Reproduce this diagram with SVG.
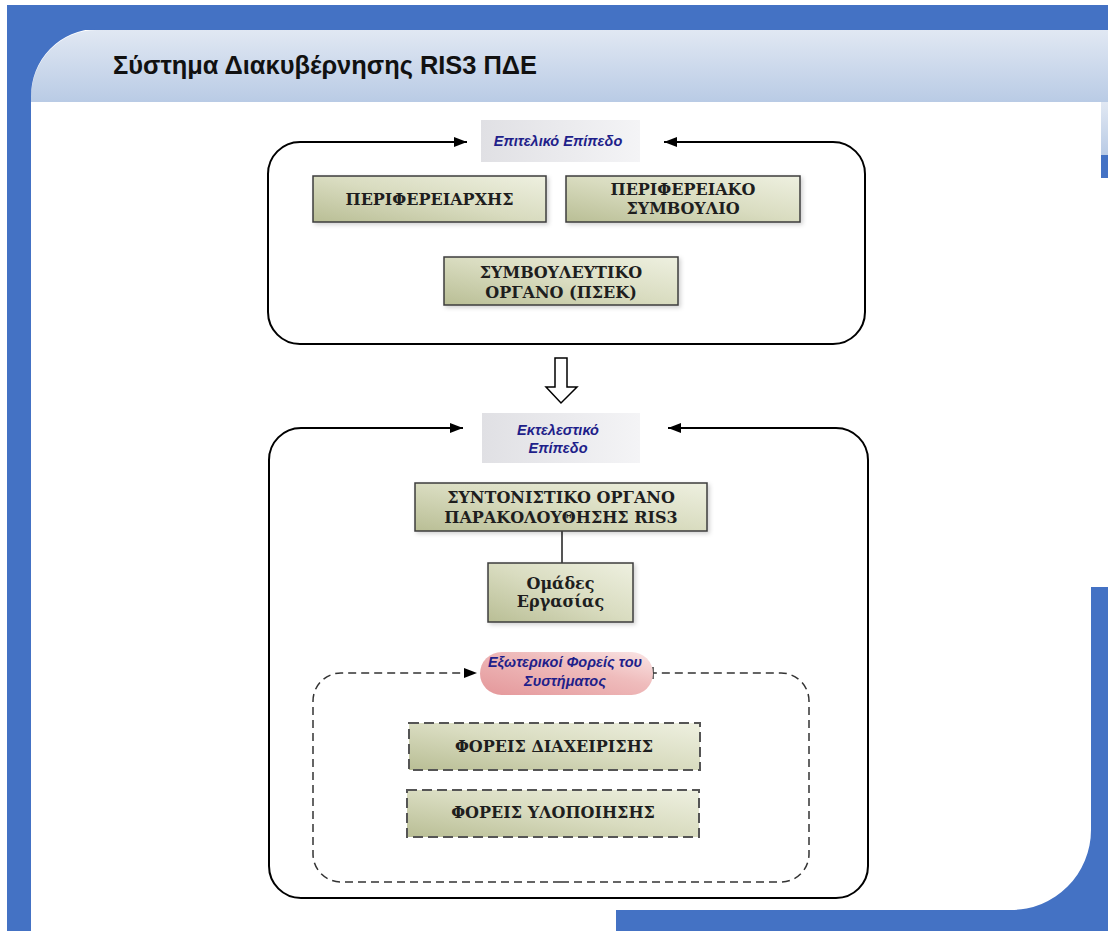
<svg xmlns="http://www.w3.org/2000/svg" width="1108" height="931" viewBox="0 0 1108 931">
<defs>
<linearGradient id="hdr" x1="0" y1="0" x2="0" y2="1"><stop offset="0" stop-color="#e1e8f3"/><stop offset="1" stop-color="#b9cbe5"/></linearGradient>
<linearGradient id="olive" x1="1" y1="0" x2="0" y2="1"><stop offset="0" stop-color="#eef0e0"/><stop offset="0.5" stop-color="#d9dcc0"/><stop offset="1" stop-color="#b9be95"/></linearGradient>
<linearGradient id="gray" x1="0" y1="0" x2="1" y2="0"><stop offset="0" stop-color="#e0e0e4"/><stop offset="1" stop-color="#f4f4f6"/></linearGradient>
<linearGradient id="pink" x1="0" y1="1" x2="1" y2="0"><stop offset="0" stop-color="#e4979a"/><stop offset="0.6" stop-color="#efbcbc"/><stop offset="1" stop-color="#fae6e6"/></linearGradient>
<filter id="sh" x="-10%" y="-20%" width="120%" height="150%"><feDropShadow dx="2" dy="2" stdDeviation="2" flood-color="#000" flood-opacity="0.18"/></filter>
<marker id="ah" markerUnits="userSpaceOnUse" markerWidth="14" markerHeight="12" refX="13" refY="6" orient="auto"><path d="M0,1 L13,6 L0,11 Z" fill="#000"/></marker>
<marker id="tick" markerUnits="userSpaceOnUse" markerWidth="4" markerHeight="14" refX="2" refY="7" orient="auto"><path d="M2,1 V13" stroke="#333" stroke-width="1.5"/></marker>
</defs>
<style>
.blue{fill:#4472c4}
.box{fill:url(#olive);stroke:#3c3c3c;stroke-width:1.5;filter:url(#sh)}
.dbox{fill:url(#olive);stroke:#555;stroke-width:2;stroke-dasharray:10 5}
.lbl{fill:url(#gray)}
.st{font-family:"DejaVu Serif","Liberation Serif",serif;font-weight:bold;font-size:16px;fill:#1e1e1e;text-anchor:middle}
.it{font-family:"Liberation Sans",Arial,sans-serif;font-weight:bold;font-style:italic;font-size:14.5px;fill:#1f1f8a;text-anchor:middle}
.frame{fill:none;stroke:#000;stroke-width:2}
.dash{fill:none;stroke:#333;stroke-width:1.5;stroke-dasharray:8 5}
</style>
<rect width="1108" height="931" fill="#fff"/>
<g id="background">
<path d="M31,97 A66,67 0 0 1 97,30 H1108 V102 H31 Z" fill="url(#hdr)"/>
<rect x="1101" y="102" width="7" height="53" fill="url(#hdr)"/>
<rect class="blue" x="7" y="5" width="1101" height="25"/>
<rect class="blue" x="7" y="5" width="24" height="926"/>
<path class="blue" d="M31,29 H97 A66,67 0 0 0 31,97 Z"/>
<rect class="blue" x="1101" y="155" width="7" height="23"/>
<path class="blue" d="M1091,587 H1108 V931 H616 V910 H1011 A80,80 0 0 0 1091,830 Z"/>
<text x="113" y="74" font-family="Liberation Sans, Arial, sans-serif" font-weight="bold" font-size="26.5" fill="#111" textLength="424" lengthAdjust="spacingAndGlyphs">Σύστημα Διακυβέρνησης RIS3 ΠΔΕ</text>
</g>
<g id="connectors">
<path class="frame" d="M561,344 H300 A32,32 0 0 1 268,312 V174 A32,32 0 0 1 300,142 H467" marker-end="url(#ah)"/>
<path class="frame" d="M561,344 H833 A32,32 0 0 0 865,312 V174 A32,32 0 0 0 833,142 H664" marker-end="url(#ah)"/>
<path d="M555,358 H567 V387 H577 L561,403 L546,387 H555 Z" fill="#fff" stroke="#000" stroke-width="1.5"/>
<path class="frame" d="M561,898 H301 A32,32 0 0 1 269,866 V460 A32,32 0 0 1 301,428 H463" marker-end="url(#ah)"/>
<path class="frame" d="M561,898 H836 A32,32 0 0 0 868,866 V460 A32,32 0 0 0 836,428 H668" marker-end="url(#ah)"/>
<line x1="562" y1="531" x2="562" y2="563" stroke="#555" stroke-width="2"/>
<path class="dash" d="M561,882 H341 A28,28 0 0 1 313,854 V701 A28,28 0 0 1 341,673 H477" marker-end="url(#ah)"/>
<path class="dash" d="M561,882 H781 A28,28 0 0 0 809,854 V701 A28,28 0 0 0 781,673 H653" marker-end="url(#tick)"/>
</g>
<g id="lbl-epiteliko">
<rect class="lbl" x="481" y="120" width="159" height="42"/>
<text class="it" x="558" y="146">Επιτελικό Επίπεδο</text>
</g>
<g id="n-perifereiarxis">
<rect class="box" x="313" y="176" width="233" height="46"/>
<text class="st" x="429.5" y="205">ΠΕΡΙΦΕΡΕΙΑΡΧΗΣ</text>
</g>
<g id="n-perifereiako">
<rect class="box" x="566" y="176" width="234" height="46"/>
<text class="st" x="683" y="195">ΠΕΡΙΦΕΡΕΙΑΚΟ</text>
<text class="st" x="683" y="214">ΣΥΜΒΟΥΛΙΟ</text>
</g>
<g id="n-symvouleytiko">
<rect class="box" x="444" y="257" width="234" height="48"/>
<text class="st" x="561" y="278">ΣΥΜΒΟΥΛΕΥΤΙΚΟ</text>
<text class="st" x="561" y="298">ΟΡΓΑΝΟ (ΠΣΕΚ)</text>
</g>
<g id="lbl-ektelestiko">
<rect class="lbl" x="482" y="413" width="158" height="50"/>
<text class="it" x="558" y="435">Εκτελεστικό</text>
<text class="it" x="558" y="453">Επίπεδο</text>
</g>
<g id="n-syntonistiko">
<rect class="box" x="415" y="483" width="292" height="48"/>
<text class="st" x="561" y="503">ΣΥΝΤΟΝΙΣΤΙΚΟ ΟΡΓΑΝΟ</text>
<text class="st" x="561" y="523">ΠΑΡΑΚΟΛΟΥΘΗΣΗΣ RIS3</text>
</g>
<g id="n-omades">
<rect class="box" x="488" y="563" width="145" height="59"/>
<text class="st" x="560.5" y="589" font-size="13.5">Ομάδες</text>
<text class="st" x="560.5" y="607" font-size="13.5">Εργασίας</text>
</g>
<g id="lbl-exoterikoi">
<rect x="480" y="652" width="173" height="43" rx="21.5" fill="url(#pink)"/>
<text class="it" x="565" y="667">Εξωτερικοί Φορείς του</text>
<text class="it" x="565" y="686">Συστήματος</text>
</g>
<g id="n-diaxeirisis">
<rect class="dbox" x="409" y="723" width="291" height="47"/>
<text class="st" x="554" y="752">ΦΟΡΕΙΣ ΔΙΑΧΕΙΡΙΣΗΣ</text>
</g>
<g id="n-ylopoiisis">
<rect class="dbox" x="407" y="790" width="292" height="47"/>
<text class="st" x="553" y="818">ΦΟΡΕΙΣ ΥΛΟΠΟΙΗΣΗΣ</text>
</g>
</svg>
